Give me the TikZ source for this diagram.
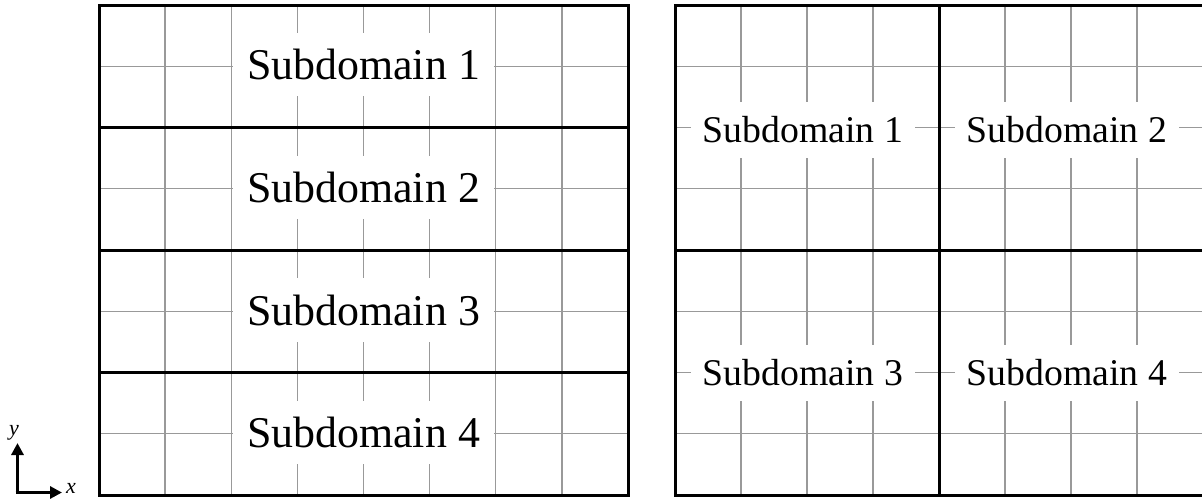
\documentclass[tikz,border=0pt]{standalone}
\usepackage{fontspec}
\setmainfont{Liberation Serif}
\usetikzlibrary{arrows.meta}
\tikzset{
  gridline/.style={draw=black!40, line width=1.3pt},
  boundline/.style={draw=black, line width=3pt},
  bigsub/.style={fill=white, inner xsep=14pt, inner ysep=16.5pt, font=\fontsize{43.9}{50}\selectfont},
  smallsub/.style={fill=white, inner xsep=12pt, inner ysep=15pt, font=\fontsize{37.75}{44}\selectfont},
  axisarrow/.style={line width=3.6pt, -{Triangle[length=12pt,width=12pt]}},
  axislabel/.style={font=\fontsize{22}{24}\selectfont\itshape, inner sep=0pt}
}
\begin{document}
\begin{tikzpicture}[x=1pt,y=-1pt]
\useasboundingbox (0,0) rectangle (1202,499);
\clip (0,0) rectangle (1202,499);
% ---------- left panel ----------
\foreach \k in {1,...,7} {
  \draw[gridline] ({99+66.125*\k},5) -- ({99+66.125*\k},495);
}
\foreach \k in {1,...,7} {
  \draw[gridline] (99,{5+61.25*\k}) -- (628,{5+61.25*\k});
}
\node[bigsub] (L1) at (363.5,64.5) {Subdomain 1};
\node[bigsub] (L2) at (363.5,187.5) {Subdomain 2};
\node[bigsub] (L3) at (363.5,310) {Subdomain 3};
\node[bigsub] (L4) at (363.5,432.5) {Subdomain 4};
\foreach \k in {2,4,6} {
  \draw[boundline] (99,{5+61.25*\k}) -- (628,{5+61.25*\k});
}
\draw[boundline] (99,5) rectangle (628,495);
% ---------- right panel ----------
\foreach \k in {1,...,7} {
  \draw[gridline] ({675+66*\k},5) -- ({675+66*\k},495);
}
\foreach \k in {1,...,7} {
  \draw[gridline] (675,{5+61.25*\k}) -- (1205,{5+61.25*\k});
}
\node[smallsub] (R1) at (803,130) {Subdomain 1};
\node[smallsub] (R2) at (1067,130) {Subdomain 2};
\node[smallsub] (R3) at (803,373) {Subdomain 3};
\node[smallsub] (R4) at (1067,373) {Subdomain 4};
\draw[boundline] (939,5) -- (939,495);
\draw[boundline] (675,250) -- (1205,250);
\draw[boundline] (675,5) rectangle (1203.5,495);
% ---------- axes ----------
\coordinate (O) at (17.5,492.5);
\coordinate (Ytip) at (17.5,443);
\coordinate (Xtip) at (62,492.5);
\draw[axisarrow] ([yshift=1.8pt]O) -- (Ytip);
\draw[axisarrow] ([xshift=-1.8pt]O) -- (Xtip);
\node[axislabel] (ylab) at (14,433) {y};
\node[axislabel] (xlab) at (71,488) {x};
\end{tikzpicture}
\end{document}
